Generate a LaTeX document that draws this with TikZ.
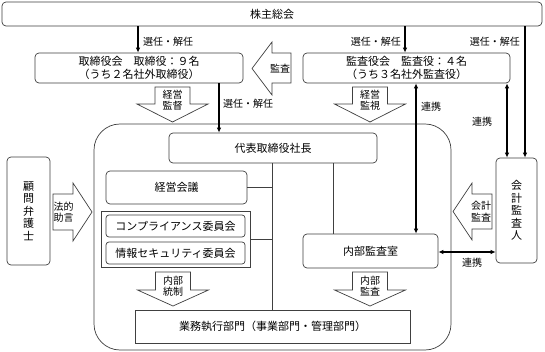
\documentclass[tikz,border=0pt]{standalone}
\usepackage{fontspec}
\setmainfont{Noto Sans CJK JP}
\usetikzlibrary{arrows.meta}
\definecolor{boxc}{HTML}{404040}
\begin{document}
\begin{tikzpicture}[x=1pt,y=-1pt,
  box/.style={draw=boxc, line width=0.7pt, rounded corners=4pt, inner sep=0pt, align=center, font=\fontsize{11}{13}\selectfont},
  sbox/.style={draw=boxc, line width=0.7pt, inner sep=0pt, align=center, font=\fontsize{11}{13}\selectfont},
  vbox/.style={draw=boxc, line width=0.7pt, rounded corners=4pt, inner sep=0pt, align=center, font=\fontsize{11}{12.5}\selectfont},
  conn/.style={line width=1.1pt, -{Latex[length=5pt,width=4.5pt]}},
  dconn/.style={line width=1.1pt, {Latex[length=5pt,width=4.5pt]}-{Latex[length=5pt,width=4.5pt]}},
  lbl/.style={font=\fontsize{10}{12}\selectfont, inner sep=0pt},
  alabel/.style={font=\fontsize{10}{11.5}\selectfont, inner sep=0pt, align=center},
  blk/.style={draw=boxc, line width=0.7pt, fill=white, line join=miter},
  gline/.style={draw=boxc, line width=0.7pt},
]
\useasboundingbox (0,0) rectangle (545,352);
\fill[white] (0,0) rectangle (545,352);

% large enclosing frame
\draw[gline, rounded corners=26pt] (94,124) rectangle (451,350);

% boxes
\node[box, minimum width=540pt, minimum height=24pt] (kabu) at (272,14) {株主総会};
\node[box, minimum width=208pt, minimum height=30pt] (tori) at (139,68) {取締役会　取締役：９名\\（うち２名社外取締役）};
\node[box, minimum width=207pt, minimum height=30pt] (kansa) at (406.5,68) {監査役会　監査役：４名\\（うち３名社外監査役）};
\node[box, minimum width=208pt, minimum height=30pt] (pres) at (273,148) {代表取締役社長};
\node[box, minimum width=141pt, minimum height=33pt] (keiei) at (176.5,187.5) {経営会議};
\node[sbox, minimum width=149pt, minimum height=56pt] (group) at (175.5,239) {};
\node[box, rounded corners=3pt, minimum width=139pt, minimum height=22pt] (comp) at (175.5,226) {コンプライアンス委員会};
\node[box, rounded corners=3pt, minimum width=139pt, minimum height=22pt] (info) at (175.5,253) {情報セキュリティ委員会};
\node[box, minimum width=135pt, minimum height=34pt] (naibu) at (370.5,251) {内部監査室};
\node[sbox, minimum width=275pt, minimum height=33pt] (gyomu) at (272.5,326.5) {業務執行部門（事業部門・管理部門）};
\node[vbox, minimum width=43pt, minimum height=108pt] (komon) at (28.5,211) {顧\\問\\弁\\護\\士};
\node[vbox, minimum width=41pt, minimum height=105pt] (kaikei) at (516.5,210.5) {会\\計\\監\\査\\人};

% helper coordinates
\coordinate (xa) at (138,0);
\coordinate (xb) at (405,0);
\coordinate (xc) at (525,0);
\coordinate (xd) at (219,0);
\coordinate (xe) at (416,0);
\coordinate (xf) at (507,0);
\coordinate (xg) at (272,0);
\coordinate (xh) at (333,0);
\coordinate (yk) at (0,252);

% connectors
\draw[conn] (kabu.south -| xa) -- (tori.north -| xa);
\node[lbl, anchor=west] (l1) at (143,42) {選任・解任};
\draw[conn] (kabu.south -| xb) -- (kansa.north -| xb);
\node[lbl, anchor=east] (l2) at (401,42) {選任・解任};
\draw[conn] (kabu.south -| xc) -- (kaikei.north -| xc);
\node[lbl, anchor=east] (l3) at (520,42) {選任・解任};
\draw[conn] (tori.south -| xd) -- (pres.north -| xd);
\node[lbl, anchor=west] (l4) at (223,104) {選任・解任};
\draw[dconn] (kansa.south -| xe) -- (naibu.north -| xe);
\node[lbl, anchor=west] (l5) at (421,107) {連携};
\draw[dconn] (kansa.south -| xf) -- (kaikei.north -| xf);
\node[lbl] (l6) at (482,122) {連携};
\draw[dconn] (naibu.east |- yk) -- (kaikei.west |- yk);
\node[lbl] (l7) at (472,263) {連携};

% internal gray lines
\draw[gline] (pres.south -| xg) -- (gyomu.north -| xg);
\draw[gline] (keiei.east) -- (keiei.east -| xg);
\draw[gline] (group.east) -- (group.east -| xg);
\draw[gline] (pres.south -| xh) -- (naibu.north -| xh);

% block arrows
\draw[blk] (155,87) -- (190,87) -- (190,104) -- (208,104) -- (172.5,122) -- (137,104) -- (155,104) -- cycle;
\node[alabel] (a1) at (172.5,100) {経営\\監督};
\draw[blk] (352.5,87) -- (387.5,87) -- (387.5,104) -- (405.5,104) -- (370,122) -- (334.5,104) -- (352.5,104) -- cycle;
\node[alabel] (a2) at (370,100) {経営\\監視};
\draw[blk] (155.5,272) -- (190.5,272) -- (190.5,290) -- (208.5,290) -- (173,306) -- (137.5,290) -- (155.5,290) -- cycle;
\node[alabel] (a3) at (173,286) {内部\\統制};
\draw[blk] (352.5,272) -- (387.5,272) -- (387.5,290) -- (405.5,290) -- (370,306) -- (334.5,290) -- (352.5,290) -- cycle;
\node[alabel] (a4) at (370,286) {内部\\監査};
\draw[blk] (291,53) -- (291,83) -- (272,83) -- (272,95) -- (252,68.5) -- (272,42) -- (272,53) -- cycle;
\node[alabel] (a5) at (280,68.5) {監査};
\draw[blk] (492,194) -- (492,229) -- (472,229) -- (472,240) -- (453,211.5) -- (472,183) -- (472,194) -- cycle;
\node[alabel] (a6) at (481,211.5) {会計\\監査};
\draw[blk] (53,194) -- (73,194) -- (73,183) -- (92,212) -- (73,241) -- (73,230) -- (53,230) -- cycle;
\node[alabel] (a7) at (63.5,212) {法的\\助言};
\end{tikzpicture}
\end{document}
